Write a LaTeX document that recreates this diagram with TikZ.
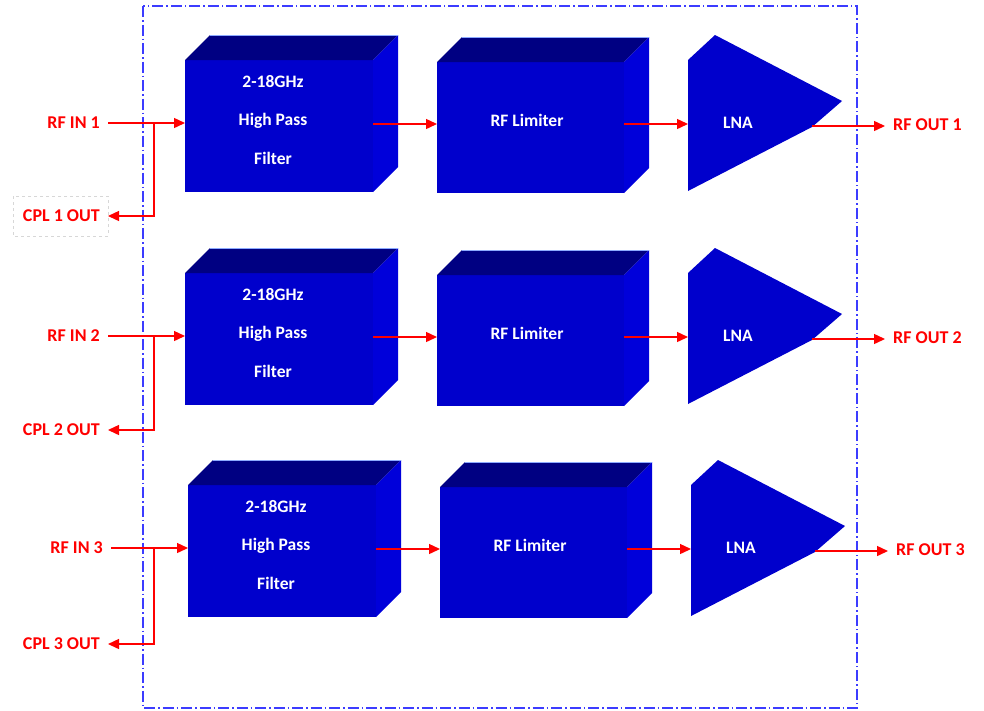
\documentclass[tikz,border=0pt]{standalone}
\usepackage{fontspec}
\setmainfont{Carlito}
\usetikzlibrary{arrows.meta,calc}
\definecolor{frontblue}{RGB}{0,0,204}
\definecolor{topblue}{RGB}{0,0,130}
\definecolor{sideblue}{RGB}{0,0,218}
\definecolor{edgeblue}{RGB}{140,170,255}
\definecolor{frameblue}{RGB}{60,60,255}
\definecolor{sigred}{RGB}{255,0,0}
\definecolor{boxgray}{RGB}{215,215,215}
\begin{document}
\begin{tikzpicture}[x=1pt,y=-1pt,
  face/.style={fill=frontblue, draw=none, inner sep=0pt, outer sep=0pt},
  topface/.style={fill=topblue, draw=none},
  sideface/.style={fill=sideblue, draw=none},
  topedge/.style={draw=edgeblue, line width=1pt},
  boxtext/.style={text=white, font=\bfseries\fontsize{17.5}{38.5}\selectfont, align=center, inner sep=0pt},
  lbl/.style={text=sigred, font=\bfseries\fontsize{18}{20}\selectfont, inner xsep=8pt, inner ysep=2pt},
  sig/.style={draw=sigred, line width=1.4pt, -{Triangle[length=11pt,width=10pt]}},
  frame/.style={draw=frameblue, line width=1.5pt, dash pattern=on 11pt off 3pt on 1.5pt off 3pt},
  cplbox/.style={draw=boxgray, line width=0.8pt, dashed}
]
\useasboundingbox (0,0) rectangle (984,710);
\draw[frame] (143,6) rectangle (857,708);
\draw[cplbox] (13,196) rectangle (108,236);
\foreach \r/\dx/\dy/\cy in {1/0/0/216,2/0/213/217,3/3/425/219} {
\begin{scope}[shift={(\dx,\dy)}]
  % filter
  \node[face, minimum width=188pt, minimum height=132pt] (f\r) at (279,126) {};
  \fill[topface] (f\r.north west) -- ++(25,-25) -- ($(f\r.north east)+(25,-25)$) -- (f\r.north east) -- cycle;
  \fill[sideface] (f\r.north east) -- ++(25,-25) -- ($(f\r.south east)+(25,-25)$) -- (f\r.south east) -- cycle;
  \draw[topedge] ($(f\r.north west)+(25,-25)$) -- ($(f\r.north east)+(25,-25)$);
  \node[boxtext] (ft\r) at (273,120) {2-18GHz\\High Pass\\Filter};
  % limiter
  \node[face, minimum width=187pt, minimum height=131pt] (l\r) at (530.5,127.5) {};
  \fill[topface] (l\r.north west) -- ++(25,-25) -- ($(l\r.north east)+(25,-25)$) -- (l\r.north east) -- cycle;
  \fill[sideface] (l\r.north east) -- ++(25,-25) -- ($(l\r.south east)+(25,-25)$) -- (l\r.south east) -- cycle;
  \draw[topedge] ($(l\r.north west)+(25,-25)$) -- ($(l\r.north east)+(25,-25)$);
  \node[boxtext] (lt\r) at (527,120) {RF Limiter};
  % LNA
  \fill[frontblue] (688,60) -- (715,35) -- (842,101) -- (812,127) -- (688,191) -- cycle;
  \node[boxtext] (a\r) at (738,123) {LNA};
  \coordinate (ain\r) at (688,124);
  \coordinate (aout\r) at (812,126);
  % labels
  \node[lbl, anchor=east] (i\r) at (108,123) {RF IN \r};
  \node[lbl, anchor=east] (c\r) at ({108-\dx},\cy) {CPL \r{} OUT};
  \node[lbl, anchor=west] (o\r) at (885,125) {RF OUT \r};
  \coordinate (b\r) at ({154-\dx},123);
  % connectors
  \draw[sig] (i\r.east) -- (i\r.east -| f\r.west);
  \draw[sig] (b\r) |- (c\r.east);
  \draw[sig] (f\r.east |- ain\r) -- (ain\r -| l\r.west);
  \draw[sig] (l\r.east |- ain\r) -- (ain\r);
  \draw[sig] (aout\r) -- (aout\r -| o\r.west);
\end{scope}
}
\end{tikzpicture}
\end{document}
